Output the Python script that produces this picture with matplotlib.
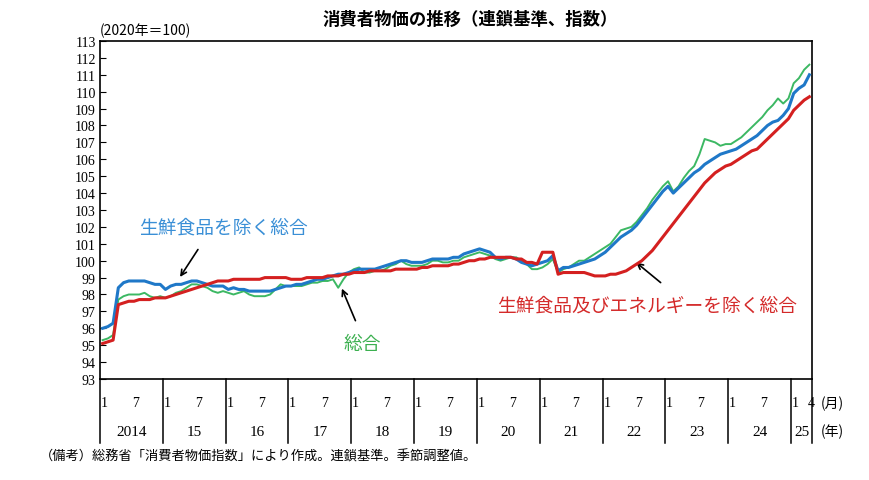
import matplotlib
matplotlib.use("Agg")
import matplotlib.pyplot as plt
import numpy as np
from matplotlib.transforms import blended_transform_factory

plt.rcParams["font.family"] = ["Noto Sans CJK JP", "DejaVu Sans"]

years = ["2014", "15", "16", "17", "18", "19", "20", "21", "22", "23", "24", "25"]
yticks = list(range(93, 114))

core = [96.0,96.1,96.3,98.4,98.7,98.8,98.8,98.8,98.8,98.7,98.6,98.6,
        98.3,98.5,98.6,98.6,98.7,98.8,98.8,98.7,98.6,98.5,98.5,98.5,
        98.3,98.4,98.3,98.3,98.2,98.2,98.2,98.2,98.2,98.3,98.4,98.5,
        98.5,98.6,98.6,98.7,98.8,98.9,98.9,99.0,99.1,99.2,99.2,99.3,
        99.4,99.5,99.5,99.5,99.5,99.6,99.7,99.8,99.9,100.0,100.0,99.9,
        99.9,99.9,100.0,100.1,100.1,100.1,100.1,100.2,100.2,100.4,100.5,100.6,
        100.7,100.6,100.5,100.2,100.1,100.2,100.2,100.1,99.9,99.8,99.7,99.8,
        99.9,100.0,100.3,99.4,99.6,99.6,99.7,99.8,99.9,100.0,100.1,100.3,
        100.5,100.8,101.1,101.4,101.6,101.8,102.1,102.5,102.9,103.3,103.7,104.1,
        104.4,104.0,104.3,104.6,104.9,105.2,105.4,105.7,105.9,106.1,106.3,106.4,
        106.5,106.6,106.8,107.0,107.2,107.4,107.7,108.0,108.2,108.3,108.6,109.0,
        109.9,110.2,110.4,111.0]
total = [95.3,95.4,95.6,97.7,97.9,98.0,98.0,98.0,98.1,97.9,97.8,97.9,
         97.8,97.9,98.1,98.2,98.4,98.6,98.6,98.5,98.4,98.2,98.1,98.2,
         98.1,98.0,98.1,98.2,98.0,97.9,97.9,97.9,98.0,98.3,98.6,98.5,
         98.5,98.5,98.5,98.6,98.7,98.7,98.8,98.8,98.9,98.4,98.9,99.3,
         99.5,99.6,99.3,99.3,99.4,99.4,99.5,99.7,99.8,100.0,99.8,99.7,
         99.7,99.7,99.8,100.0,100.0,99.9,99.9,100.0,100.0,100.2,100.3,100.4,
         100.5,100.4,100.3,100.1,100.0,100.1,100.2,100.2,100.0,99.8,99.5,99.5,
         99.6,99.8,100.1,99.3,99.5,99.6,99.8,100.0,100.0,100.2,100.4,100.6,
         100.8,101.0,101.4,101.8,101.9,102.0,102.3,102.7,103.1,103.6,104.0,104.4,
         104.7,104.1,104.4,104.9,105.3,105.6,106.3,107.2,107.1,107.0,106.8,106.9,
         106.9,107.1,107.3,107.6,107.9,108.2,108.5,108.9,109.2,109.6,109.3,109.6,
         110.5,110.8,111.3,111.6]
corecore = [95.1,95.2,95.3,97.4,97.5,97.6,97.6,97.7,97.7,97.7,97.8,97.8,
            97.8,97.9,98.0,98.1,98.2,98.3,98.4,98.5,98.6,98.7,98.8,98.8,
            98.8,98.9,98.9,98.9,98.9,98.9,98.9,99.0,99.0,99.0,99.0,99.0,
            98.9,98.9,98.9,99.0,99.0,99.0,99.0,99.1,99.1,99.1,99.2,99.2,
            99.3,99.3,99.3,99.4,99.4,99.4,99.4,99.4,99.5,99.5,99.5,99.5,
            99.5,99.6,99.6,99.7,99.7,99.7,99.7,99.8,99.8,99.9,100.0,100.0,
            100.1,100.1,100.2,100.2,100.2,100.2,100.2,100.1,100.1,99.9,99.9,99.8,
            100.5,100.5,100.5,99.2,99.3,99.3,99.3,99.3,99.3,99.2,99.1,99.1,
            99.1,99.2,99.2,99.3,99.4,99.6,99.8,100.0,100.3,100.6,101.0,101.4,
            101.8,102.2,102.6,103.0,103.4,103.8,104.2,104.6,104.9,105.2,105.4,105.6,
            105.7,105.9,106.1,106.3,106.5,106.6,106.9,107.2,107.5,107.8,108.1,108.4,
            108.9,109.2,109.5,109.7]

n = len(core)
x = np.arange(n)

fig = plt.figure(figsize=(8.7, 4.81), dpi=100)
ax = fig.add_axes([100/870, 1-380/481, 712/870, 338/481])
ax.plot(x, total, color="#3cb863", lw=1.4, zorder=2)
ax.plot(x, core, color="#1f78c8", lw=2.2, zorder=3)
ax.plot(x, corecore, color="#d42020", lw=2.2, zorder=4)
ax.set_xlim(-0.5, n - 0.5)
ax.set_ylim(93, 113)
ax.set_yticks(yticks)
ax.set_yticklabels([str(v) for v in yticks], fontsize=10, family="Liberation Serif")
ax.tick_params(axis="y", direction="in", length=4, pad=3)
ax.set_xticks([])
for s in ax.spines.values():
    s.set_linewidth(1.2)

tr = blended_transform_factory(ax.transData, ax.transAxes)
for k in range(len(years) + 1):
    xb = 12 * k - 0.5 if k < len(years) else n - 0.5
    ax.plot([xb, xb], [0, -0.19], transform=tr, color="black", lw=1.1, clip_on=False)
for k, yl in enumerate(years):
    start = 12 * k
    end = min(12 * k + 12, n)
    ax.text((start + end - 1) / 2, -0.155, yl, transform=tr, ha="center", va="center",
            fontsize=11, family="Liberation Serif")
    months = [(start, "1"), (start + 6, "7")] if end - start == 12 else [(start, "1"), (end - 1, "4")]
    for mx, ml in months:
        ax.text(mx + 0.3, -0.07, ml, transform=tr, ha="center", va="center",
                fontsize=10, family="Liberation Serif")
ax.text(1.012, -0.07, "(月)", transform=ax.transAxes, ha="left", va="center", fontsize=10)
ax.text(1.012, -0.155, "(年)", transform=ax.transAxes, ha="left", va="center", fontsize=10)

fig.text(470/870, 1-20/481, "消費者物価の推移（連鎖基準、指数）", ha="center", va="center",
         fontsize=12.5, fontweight="bold")
fig.text(100/870, 1-31/481, "(2020年＝100)", ha="left", va="center", fontsize=10)
fig.text(40/870, 1-457/481, "（備考）総務省「消費者物価指数」により作成。連鎖基準。季節調整値。",
         ha="left", va="center", fontsize=9.5)

arrow = dict(arrowstyle="->", color="black", lw=1.2)
ax.text(23, 102.0, "生鮮食品を除く総合", color="#3a8fd6", fontsize=13.5, ha="center", va="center")
ax.annotate("", xy=(14.5, 98.9), xytext=(18.5, 100.8), arrowprops=arrow)
ax.text(49.5, 95.1, "総合", color="#3cb050", fontsize=13.5, ha="center", va="center")
ax.annotate("", xy=(45.5, 98.5), xytext=(48.5, 96.3), arrowprops=arrow)
ax.text(104, 97.4, "生鮮食品及びエネルギーを除く総合", color="#d42a2a", fontsize=13.5,
        ha="center", va="center")
ax.annotate("", xy=(101.5, 100.0), xytext=(107, 98.6), arrowprops=arrow)

fig.savefig("out.png", dpi=100)
